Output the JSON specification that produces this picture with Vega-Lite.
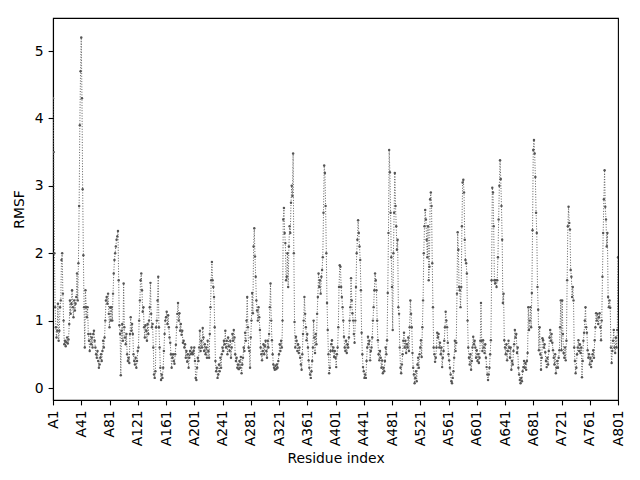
{
  "$schema": "https://vega.github.io/schema/vega-lite/v6.json",
  "width": 565,
  "height": 382,
  "autosize": "none",
  "padding": {"left": 53, "top": 18, "right": 22, "bottom": 80},
  "background": "white",
  "data": {
    "values": [
      {"i":0,"r":4.3},{"i":1,"r":3.5},{"i":2,"r":2.0},{"i":3,"r":1.2},{"i":4,"r":0.9},{"i":5,"r":0.75},{"i":6,"r":0.85},{"i":7,"r":1.25},{"i":8,"r":0.7},{"i":9,"r":0.85},
      {"i":10,"r":1.2},{"i":11,"r":1.3},{"i":12,"r":1.9},{"i":13,"r":2.0},{"i":14,"r":1.4},{"i":15,"r":1.0},{"i":16,"r":0.65},{"i":17,"r":0.7},{"i":18,"r":0.62},{"i":19,"r":0.68},
      {"i":20,"r":0.75},{"i":21,"r":0.66},{"i":22,"r":0.72},{"i":23,"r":0.95},{"i":24,"r":1.3},{"i":25,"r":1.1},{"i":26,"r":1.25},{"i":27,"r":1.45},{"i":28,"r":1.2},{"i":29,"r":1.05},
      {"i":30,"r":1.3},{"i":31,"r":1.15},{"i":32,"r":1.25},{"i":33,"r":1.35},{"i":34,"r":1.7},{"i":35,"r":1.3},{"i":36,"r":1.85},{"i":37,"r":2.7},{"i":38,"r":3.9},{"i":39,"r":4.7},
      {"i":40,"r":5.2},{"i":41,"r":4.3},{"i":42,"r":2.95},{"i":43,"r":1.97},{"i":44,"r":1.2},{"i":45,"r":0.6},{"i":46,"r":1.45},{"i":47,"r":1.2},{"i":48,"r":1.05},{"i":49,"r":1.2},
      {"i":50,"r":0.8},{"i":51,"r":0.7},{"i":52,"r":0.55},{"i":53,"r":0.8},{"i":54,"r":0.65},{"i":55,"r":0.75},{"i":56,"r":0.6},{"i":57,"r":0.8},{"i":58,"r":0.85},{"i":59,"r":0.7},
      {"i":60,"r":0.6},{"i":61,"r":0.5},{"i":62,"r":0.45},{"i":63,"r":0.55},{"i":64,"r":0.4},{"i":65,"r":0.3},{"i":66,"r":0.35},{"i":67,"r":0.45},{"i":68,"r":0.5},{"i":69,"r":0.4},
      {"i":70,"r":0.55},{"i":71,"r":0.7},{"i":72,"r":0.6},{"i":73,"r":0.75},{"i":74,"r":1.0},{"i":75,"r":1.3},{"i":76,"r":1.35},{"i":77,"r":1.25},{"i":78,"r":1.4},{"i":79,"r":1.1},
      {"i":80,"r":0.9},{"i":81,"r":1.2},{"i":82,"r":1.0},{"i":83,"r":1.2},{"i":84,"r":1.0},{"i":85,"r":1.4},{"i":86,"r":1.7},{"i":87,"r":1.9},{"i":88,"r":2.0},{"i":89,"r":2.1},
      {"i":90,"r":2.2},{"i":91,"r":2.25},{"i":92,"r":2.33},{"i":93,"r":1.6},{"i":94,"r":0.93},{"i":95,"r":0.8},{"i":96,"r":0.19},{"i":97,"r":0.85},{"i":98,"r":0.95},{"i":99,"r":0.7},
      {"i":100,"r":1.55},{"i":101,"r":0.9},{"i":102,"r":0.75},{"i":103,"r":0.65},{"i":104,"r":0.8},{"i":105,"r":0.5},{"i":106,"r":0.4},{"i":107,"r":0.45},{"i":108,"r":0.37},{"i":109,"r":0.8},
      {"i":110,"r":1.05},{"i":111,"r":0.85},{"i":112,"r":0.95},{"i":113,"r":0.8},{"i":114,"r":0.5},{"i":115,"r":0.4},{"i":116,"r":0.35},{"i":117,"r":0.45},{"i":118,"r":0.3},{"i":119,"r":0.4},
      {"i":120,"r":0.55},{"i":121,"r":0.6},{"i":122,"r":1.0},{"i":123,"r":1.3},{"i":124,"r":1.6},{"i":125,"r":1.7},{"i":126,"r":1.45},{"i":127,"r":1.13},{"i":128,"r":1.2},{"i":129,"r":0.9},
      {"i":130,"r":0.75},{"i":131,"r":0.93},{"i":132,"r":0.85},{"i":133,"r":0.7},{"i":134,"r":0.95},{"i":135,"r":0.8},{"i":136,"r":1.0},{"i":137,"r":1.2},{"i":138,"r":1.56},{"i":139,"r":1.1},
      {"i":140,"r":0.9},{"i":141,"r":0.95},{"i":142,"r":0.6},{"i":143,"r":0.2},{"i":144,"r":0.15},{"i":145,"r":0.25},{"i":146,"r":0.9},{"i":147,"r":1.0},{"i":148,"r":1.3},{"i":149,"r":1.65},
      {"i":150,"r":0.9},{"i":151,"r":0.6},{"i":152,"r":0.3},{"i":153,"r":0.12},{"i":154,"r":0.2},{"i":155,"r":0.15},{"i":156,"r":0.3},{"i":157,"r":0.55},{"i":158,"r":0.8},{"i":159,"r":1.0},
      {"i":160,"r":1.05},{"i":161,"r":1.13},{"i":162,"r":0.95},{"i":163,"r":1.08},{"i":164,"r":0.9},{"i":165,"r":0.75},{"i":166,"r":0.67},{"i":167,"r":0.5},{"i":168,"r":0.3},{"i":169,"r":0.45},
      {"i":170,"r":0.5},{"i":171,"r":0.4},{"i":172,"r":0.36},{"i":173,"r":0.5},{"i":174,"r":0.64},{"i":175,"r":0.9},{"i":176,"r":1.1},{"i":177,"r":1.26},{"i":178,"r":1.0},{"i":179,"r":1.11},
      {"i":180,"r":0.85},{"i":181,"r":0.95},{"i":182,"r":0.79},{"i":183,"r":0.85},{"i":184,"r":0.67},{"i":185,"r":0.7},{"i":186,"r":0.6},{"i":187,"r":0.65},{"i":188,"r":0.45},{"i":189,"r":0.55},
      {"i":190,"r":0.39},{"i":191,"r":0.5},{"i":192,"r":0.3},{"i":193,"r":0.45},{"i":194,"r":0.55},{"i":195,"r":0.5},{"i":196,"r":0.6},{"i":197,"r":0.52},{"i":198,"r":0.5},{"i":199,"r":0.55},
      {"i":200,"r":0.6},{"i":201,"r":0.4},{"i":202,"r":0.15},{"i":203,"r":0.12},{"i":204,"r":0.3},{"i":205,"r":0.45},{"i":206,"r":0.4},{"i":207,"r":0.6},{"i":208,"r":0.85},{"i":209,"r":0.55},
      {"i":210,"r":0.7},{"i":211,"r":0.6},{"i":212,"r":0.89},{"i":213,"r":0.75},{"i":214,"r":0.55},{"i":215,"r":0.65},{"i":216,"r":0.5},{"i":217,"r":0.6},{"i":218,"r":0.45},{"i":219,"r":0.7},
      {"i":220,"r":0.55},{"i":221,"r":0.45},{"i":222,"r":0.8},{"i":223,"r":1.2},{"i":224,"r":1.6},{"i":225,"r":1.87},{"i":226,"r":1.6},{"i":227,"r":1.5},{"i":228,"r":1.35},{"i":229,"r":0.9},
      {"i":230,"r":0.4},{"i":231,"r":0.25},{"i":232,"r":0.3},{"i":233,"r":0.15},{"i":234,"r":0.2},{"i":235,"r":0.35},{"i":236,"r":0.25},{"i":237,"r":0.45},{"i":238,"r":0.3},{"i":239,"r":0.5},
      {"i":240,"r":0.6},{"i":241,"r":0.55},{"i":242,"r":0.7},{"i":243,"r":0.65},{"i":244,"r":0.85},{"i":245,"r":0.6},{"i":246,"r":0.7},{"i":247,"r":0.5},{"i":248,"r":0.75},{"i":249,"r":0.62},
      {"i":250,"r":0.55},{"i":251,"r":0.7},{"i":252,"r":0.45},{"i":253,"r":0.6},{"i":254,"r":0.8},{"i":255,"r":0.7},{"i":256,"r":0.86},{"i":257,"r":0.75},{"i":258,"r":0.5},{"i":259,"r":0.4},
      {"i":260,"r":0.45},{"i":261,"r":0.3},{"i":262,"r":0.35},{"i":263,"r":0.28},{"i":264,"r":0.4},{"i":265,"r":0.3},{"i":266,"r":0.46},{"i":267,"r":0.22},{"i":268,"r":0.35},{"i":269,"r":0.45},
      {"i":270,"r":0.6},{"i":271,"r":0.55},{"i":272,"r":0.82},{"i":273,"r":0.7},{"i":274,"r":1.0},{"i":275,"r":1.35},{"i":276,"r":0.9},{"i":277,"r":0.6},{"i":278,"r":0.55},{"i":279,"r":0.3},
      {"i":280,"r":0.75},{"i":281,"r":1.0},{"i":282,"r":1.41},{"i":283,"r":1.11},{"i":284,"r":2.1},{"i":285,"r":2.37},{"i":286,"r":1.95},{"i":287,"r":1.65},{"i":288,"r":1.3},{"i":289,"r":1.15},
      {"i":290,"r":1.0},{"i":291,"r":1.2},{"i":292,"r":1.05},{"i":293,"r":0.86},{"i":294,"r":0.6},{"i":295,"r":0.5},{"i":296,"r":0.41},{"i":297,"r":0.55},{"i":298,"r":0.65},{"i":299,"r":0.5},
      {"i":300,"r":0.62},{"i":301,"r":0.7},{"i":302,"r":0.55},{"i":303,"r":0.45},{"i":304,"r":0.7},{"i":305,"r":0.6},{"i":306,"r":0.8},{"i":307,"r":1.2},{"i":308,"r":1.55},{"i":309,"r":1.0},
      {"i":310,"r":0.71},{"i":311,"r":0.5},{"i":312,"r":0.35},{"i":313,"r":0.3},{"i":314,"r":0.27},{"i":315,"r":0.33},{"i":316,"r":0.28},{"i":317,"r":0.35},{"i":318,"r":0.3},{"i":319,"r":0.4},
      {"i":320,"r":0.5},{"i":321,"r":0.65},{"i":322,"r":0.55},{"i":323,"r":0.7},{"i":324,"r":0.6},{"i":325,"r":1.0},{"i":326,"r":2.5},{"i":327,"r":2.67},{"i":328,"r":2.3},{"i":329,"r":2.15},
      {"i":330,"r":1.6},{"i":331,"r":1.65},{"i":332,"r":2.0},{"i":333,"r":1.5},{"i":334,"r":2.1},{"i":335,"r":2.4},{"i":336,"r":2.3},{"i":337,"r":2.75},{"i":338,"r":3.0},{"i":339,"r":2.85},
      {"i":340,"r":3.48},{"i":341,"r":2.0},{"i":342,"r":0.98},{"i":343,"r":0.6},{"i":344,"r":0.76},{"i":345,"r":0.7},{"i":346,"r":0.55},{"i":347,"r":0.65},{"i":348,"r":0.52},{"i":349,"r":0.6},
      {"i":350,"r":0.45},{"i":351,"r":0.35},{"i":352,"r":0.27},{"i":353,"r":0.5},{"i":354,"r":0.8},{"i":355,"r":1.0},{"i":356,"r":1.35},{"i":357,"r":1.1},{"i":358,"r":0.9},{"i":359,"r":0.71},
      {"i":360,"r":0.8},{"i":361,"r":0.6},{"i":362,"r":0.41},{"i":363,"r":0.3},{"i":364,"r":0.2},{"i":365,"r":0.15},{"i":366,"r":0.25},{"i":367,"r":0.4},{"i":368,"r":0.6},{"i":369,"r":1.0},
      {"i":370,"r":0.75},{"i":371,"r":0.52},{"i":372,"r":0.8},{"i":373,"r":0.65},{"i":374,"r":1.1},{"i":375,"r":1.35},{"i":376,"r":1.7},{"i":377,"r":1.5},{"i":378,"r":1.6},{"i":379,"r":1.4},
      {"i":380,"r":1.65},{"i":381,"r":1.75},{"i":382,"r":1.94},{"i":383,"r":2.6},{"i":384,"r":3.3},{"i":385,"r":3.19},{"i":386,"r":2.7},{"i":387,"r":2.0},{"i":388,"r":1.26},{"i":389,"r":0.86},
      {"i":390,"r":0.5},{"i":391,"r":0.22},{"i":392,"r":0.3},{"i":393,"r":0.55},{"i":394,"r":0.65},{"i":395,"r":0.71},{"i":396,"r":0.55},{"i":397,"r":0.6},{"i":398,"r":0.46},{"i":399,"r":0.55},
      {"i":400,"r":0.45},{"i":401,"r":0.31},{"i":402,"r":0.5},{"i":403,"r":0.6},{"i":404,"r":0.9},{"i":405,"r":1.5},{"i":406,"r":1.82},{"i":407,"r":1.8},{"i":408,"r":1.5},{"i":409,"r":1.35},
      {"i":410,"r":1.2},{"i":411,"r":1.0},{"i":412,"r":0.76},{"i":413,"r":0.6},{"i":414,"r":0.55},{"i":415,"r":0.7},{"i":416,"r":0.52},{"i":417,"r":0.65},{"i":418,"r":0.6},{"i":419,"r":0.75},
      {"i":420,"r":1.0},{"i":421,"r":1.2},{"i":422,"r":1.63},{"i":423,"r":1.3},{"i":424,"r":1.11},{"i":425,"r":1.0},{"i":426,"r":0.8},{"i":427,"r":0.67},{"i":428,"r":1.0},{"i":429,"r":1.5},
      {"i":430,"r":2.0},{"i":431,"r":2.2},{"i":432,"r":2.49},{"i":433,"r":2.3},{"i":434,"r":2.1},{"i":435,"r":1.9},{"i":436,"r":1.45},{"i":437,"r":0.82},{"i":438,"r":0.5},{"i":439,"r":0.31},
      {"i":440,"r":0.25},{"i":441,"r":0.15},{"i":442,"r":0.2},{"i":443,"r":0.15},{"i":444,"r":0.4},{"i":445,"r":0.6},{"i":446,"r":0.76},{"i":447,"r":0.65},{"i":448,"r":0.7},{"i":449,"r":0.41},
      {"i":450,"r":0.55},{"i":451,"r":0.6},{"i":452,"r":0.75},{"i":453,"r":1.0},{"i":454,"r":1.2},{"i":455,"r":1.45},{"i":456,"r":1.7},{"i":457,"r":1.6},{"i":458,"r":1.45},{"i":459,"r":1.0},
      {"i":460,"r":0.71},{"i":461,"r":0.5},{"i":462,"r":0.41},{"i":463,"r":0.55},{"i":464,"r":0.45},{"i":465,"r":0.3},{"i":466,"r":0.41},{"i":467,"r":0.22},{"i":468,"r":0.3},{"i":469,"r":0.25},
      {"i":470,"r":0.4},{"i":471,"r":0.6},{"i":472,"r":0.5},{"i":473,"r":0.71},{"i":474,"r":1.41},{"i":475,"r":2.3},{"i":476,"r":3.53},{"i":477,"r":3.2},{"i":478,"r":2.6},{"i":479,"r":1.94},
      {"i":480,"r":1.5},{"i":481,"r":0.86},{"i":482,"r":2.0},{"i":483,"r":2.6},{"i":484,"r":3.19},{"i":485,"r":2.7},{"i":486,"r":2.4},{"i":487,"r":2.05},{"i":488,"r":2.2},{"i":489,"r":1.2},
      {"i":490,"r":1.1},{"i":491,"r":0.6},{"i":492,"r":0.3},{"i":493,"r":0.22},{"i":494,"r":0.35},{"i":495,"r":0.5},{"i":496,"r":0.7},{"i":497,"r":0.82},{"i":498,"r":0.6},{"i":499,"r":0.7},
      {"i":500,"r":0.52},{"i":501,"r":0.65},{"i":502,"r":0.6},{"i":503,"r":0.75},{"i":504,"r":0.55},{"i":505,"r":0.9},{"i":506,"r":1.3},{"i":507,"r":1.1},{"i":508,"r":0.9},{"i":509,"r":0.52},
      {"i":510,"r":0.3},{"i":511,"r":0.2},{"i":512,"r":0.07},{"i":513,"r":0.15},{"i":514,"r":0.25},{"i":515,"r":0.1},{"i":516,"r":0.35},{"i":517,"r":0.45},{"i":518,"r":0.3},{"i":519,"r":0.5},
      {"i":520,"r":0.6},{"i":521,"r":0.71},{"i":522,"r":0.46},{"i":523,"r":0.9},{"i":524,"r":1.3},{"i":525,"r":2.0},{"i":526,"r":2.4},{"i":527,"r":2.64},{"i":528,"r":2.5},{"i":529,"r":2.2},
      {"i":530,"r":1.94},{"i":531,"r":2.4},{"i":532,"r":1.6},{"i":533,"r":1.8},{"i":534,"r":2.8},{"i":535,"r":2.9},{"i":536,"r":2.7},{"i":537,"r":1.85},{"i":538,"r":1.2},{"i":539,"r":0.6},
      {"i":540,"r":0.5},{"i":541,"r":0.39},{"i":542,"r":0.45},{"i":543,"r":0.6},{"i":544,"r":0.82},{"i":545,"r":0.75},{"i":546,"r":0.8},{"i":547,"r":0.6},{"i":548,"r":0.67},{"i":549,"r":0.5},
      {"i":550,"r":0.6},{"i":551,"r":0.31},{"i":552,"r":0.45},{"i":553,"r":0.55},{"i":554,"r":0.7},{"i":555,"r":0.9},{"i":556,"r":1.13},{"i":557,"r":1.0},{"i":558,"r":0.9},{"i":559,"r":0.67},
      {"i":560,"r":0.5},{"i":561,"r":0.41},{"i":562,"r":0.3},{"i":563,"r":0.2},{"i":564,"r":0.1},{"i":565,"r":0.07},{"i":566,"r":0.15},{"i":567,"r":0.25},{"i":568,"r":0.45},{"i":569,"r":0.7},
      {"i":570,"r":0.55},{"i":571,"r":0.67},{"i":572,"r":1.4},{"i":573,"r":2.31},{"i":574,"r":2.05},{"i":575,"r":1.5},{"i":576,"r":1.45},{"i":577,"r":1.2},{"i":578,"r":1.5},{"i":579,"r":2.4},
      {"i":580,"r":3.05},{"i":581,"r":3.09},{"i":582,"r":2.9},{"i":583,"r":2.2},{"i":584,"r":1.9},{"i":585,"r":1.85},{"i":586,"r":1.7},{"i":587,"r":1.0},{"i":588,"r":0.6},{"i":589,"r":0.45},
      {"i":590,"r":0.35},{"i":591,"r":0.5},{"i":592,"r":0.27},{"i":593,"r":0.4},{"i":594,"r":0.6},{"i":595,"r":0.76},{"i":596,"r":0.65},{"i":597,"r":0.7},{"i":598,"r":0.6},{"i":599,"r":0.45},
      {"i":600,"r":0.56},{"i":601,"r":0.4},{"i":602,"r":0.5},{"i":603,"r":0.37},{"i":604,"r":0.45},{"i":605,"r":0.7},{"i":606,"r":1.26},{"i":607,"r":0.7},{"i":608,"r":0.55},{"i":609,"r":0.71},
      {"i":610,"r":0.6},{"i":611,"r":0.52},{"i":612,"r":0.65},{"i":613,"r":0.45},{"i":614,"r":0.31},{"i":615,"r":0.2},{"i":616,"r":0.12},{"i":617,"r":0.2},{"i":618,"r":0.3},{"i":619,"r":0.5},
      {"i":620,"r":0.71},{"i":621,"r":1.6},{"i":622,"r":2.97},{"i":623,"r":2.9},{"i":624,"r":2.4},{"i":625,"r":1.6},{"i":626,"r":1.55},{"i":627,"r":1.6},{"i":628,"r":1.5},{"i":629,"r":1.6},
      {"i":630,"r":1.94},{"i":631,"r":2.5},{"i":632,"r":3.0},{"i":633,"r":3.38},{"i":634,"r":3.1},{"i":635,"r":2.7},{"i":636,"r":2.2},{"i":637,"r":1.26},{"i":638,"r":1.4},{"i":639,"r":0.71},
      {"i":640,"r":0.6},{"i":641,"r":0.5},{"i":642,"r":0.65},{"i":643,"r":0.41},{"i":644,"r":0.55},{"i":645,"r":0.7},{"i":646,"r":0.6},{"i":647,"r":0.45},{"i":648,"r":0.6},{"i":649,"r":0.27},
      {"i":650,"r":0.4},{"i":651,"r":0.35},{"i":652,"r":0.55},{"i":653,"r":0.65},{"i":654,"r":0.86},{"i":655,"r":0.75},{"i":656,"r":0.8},{"i":657,"r":0.52},{"i":658,"r":0.6},{"i":659,"r":0.3},
      {"i":660,"r":0.2},{"i":661,"r":0.12},{"i":662,"r":0.07},{"i":663,"r":0.15},{"i":664,"r":0.1},{"i":665,"r":0.25},{"i":666,"r":0.31},{"i":667,"r":0.4},{"i":668,"r":0.3},{"i":669,"r":0.37},
      {"i":670,"r":0.27},{"i":671,"r":0.4},{"i":672,"r":0.52},{"i":673,"r":1.2},{"i":674,"r":0.86},{"i":675,"r":1.0},{"i":676,"r":1.2},{"i":677,"r":0.9},{"i":678,"r":1.41},{"i":679,"r":2.34},
      {"i":680,"r":3.53},{"i":681,"r":3.68},{"i":682,"r":3.48},{"i":683,"r":3.13},{"i":684,"r":2.6},{"i":685,"r":2.3},{"i":686,"r":1.5},{"i":687,"r":1.16},{"i":688,"r":0.56},{"i":689,"r":0.9},
      {"i":690,"r":0.5},{"i":691,"r":0.27},{"i":692,"r":0.45},{"i":693,"r":0.74},{"i":694,"r":0.71},{"i":695,"r":0.6},{"i":696,"r":0.65},{"i":697,"r":0.53},{"i":698,"r":0.4},{"i":699,"r":0.31},
      {"i":700,"r":0.45},{"i":701,"r":0.35},{"i":702,"r":0.55},{"i":703,"r":0.75},{"i":704,"r":0.86},{"i":705,"r":0.7},{"i":706,"r":0.8},{"i":707,"r":0.67},{"i":708,"r":0.56},{"i":709,"r":0.45},
      {"i":710,"r":0.35},{"i":711,"r":0.5},{"i":712,"r":0.22},{"i":713,"r":0.3},{"i":714,"r":0.4},{"i":715,"r":0.3},{"i":716,"r":0.45},{"i":717,"r":0.56},{"i":718,"r":0.9},{"i":719,"r":1.3},
      {"i":720,"r":0.56},{"i":721,"r":1.3},{"i":722,"r":0.8},{"i":723,"r":0.52},{"i":724,"r":0.45},{"i":725,"r":0.6},{"i":726,"r":0.41},{"i":727,"r":0.7},{"i":728,"r":1.6},{"i":729,"r":2.4},
      {"i":730,"r":2.69},{"i":731,"r":2.45},{"i":732,"r":2.35},{"i":733,"r":1.75},{"i":734,"r":1.65},{"i":735,"r":1.35},{"i":736,"r":1.5},{"i":737,"r":1.3},{"i":738,"r":0.6},{"i":739,"r":0.4},
      {"i":740,"r":0.22},{"i":741,"r":0.3},{"i":742,"r":0.5},{"i":743,"r":0.6},{"i":744,"r":0.71},{"i":745,"r":0.55},{"i":746,"r":0.65},{"i":747,"r":0.52},{"i":748,"r":0.6},{"i":749,"r":0.16},
      {"i":750,"r":0.4},{"i":751,"r":0.7},{"i":752,"r":0.82},{"i":753,"r":1.0},{"i":754,"r":1.2},{"i":755,"r":0.9},{"i":756,"r":0.82},{"i":757,"r":0.56},{"i":758,"r":0.45},{"i":759,"r":0.5},
      {"i":760,"r":0.35},{"i":761,"r":0.45},{"i":762,"r":0.31},{"i":763,"r":0.4},{"i":764,"r":0.5},{"i":765,"r":0.56},{"i":766,"r":0.45},{"i":767,"r":0.71},{"i":768,"r":0.9},{"i":769,"r":1.11},
      {"i":770,"r":1.0},{"i":771,"r":1.1},{"i":772,"r":0.95},{"i":773,"r":1.05},{"i":774,"r":1.11},{"i":775,"r":0.9},{"i":776,"r":0.71},{"i":777,"r":1.0},{"i":778,"r":1.65},{"i":779,"r":2.3},
      {"i":780,"r":2.8},{"i":781,"r":3.23},{"i":782,"r":2.69},{"i":783,"r":2.5},{"i":784,"r":2.1},{"i":785,"r":2.3},{"i":786,"r":1.35},{"i":787,"r":1.2},{"i":788,"r":1.3},{"i":789,"r":1.19},
      {"i":790,"r":0.6},{"i":791,"r":0.37},{"i":792,"r":0.55},{"i":793,"r":0.7},{"i":794,"r":0.86},{"i":795,"r":0.6},{"i":796,"r":0.52},{"i":797,"r":0.75},{"i":798,"r":0.6},{"i":799,"r":0.86},
      {"i":800,"r":1.94}
    ]
  },
  "encoding": {
    "x": {
      "field": "i",
      "type": "quantitative",
      "title": "Residue index",
      "scale": {"domain": [0, 800], "nice": false, "zero": false},
      "axis": {
        "values": [0, 40, 80, 120, 160, 200, 240, 280, 320, 360, 400, 440, 480, 520, 560, 600, 640, 680, 720, 760, 800],
        "labelExpr": "'A' + (datum.value + 1)",
        "labelAngle": -90,
        "labelOverlap": false,
        "labelFlush": false,
        "titlePadding": 6
      }
    },
    "y": {
      "field": "r",
      "type": "quantitative",
      "title": "RMSF",
      "scale": {"domain": [-0.178, 5.49], "nice": false, "zero": false},
      "axis": {"values": [0, 1, 2, 3, 4, 5], "format": "d", "titlePadding": 8}
    }
  },
  "layer": [
    {
      "mark": {"type": "line", "color": "#606060", "strokeWidth": 1, "strokeDash": [1, 1.65], "clip": true}
    },
    {
      "mark": {"type": "point", "filled": true, "color": "#555555", "size": 6, "opacity": 1, "clip": true}
    }
  ],
  "config": {
    "font": "DejaVu Sans",
    "view": {"stroke": "black", "strokeWidth": 1.1},
    "axis": {
      "grid": false,
      "domainColor": "black",
      "domainWidth": 1.1,
      "tickColor": "black",
      "tickWidth": 1.1,
      "tickSize": 4.9,
      "labelPadding": 4.9,
      "labelFontSize": 13.9,
      "labelColor": "black",
      "titleFontSize": 13.9,
      "titleFontWeight": "normal",
      "titleColor": "black",
      "labelFont": "DejaVu Sans",
      "titleFont": "DejaVu Sans"
    }
  }
}
